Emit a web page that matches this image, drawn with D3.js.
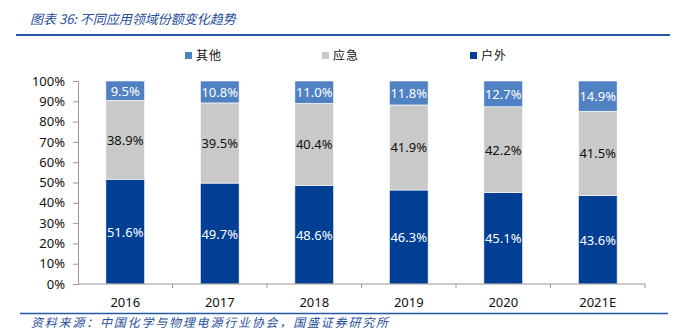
<!DOCTYPE html>
<html><head><meta charset="utf-8">
<script src="https://cdn.jsdelivr.net/npm/d3@7"></script>
<style>body{margin:0;background:#fff;}svg{display:block;}</style>
</head><body>
<svg id="c" width="682" height="331"></svg>
<script>
const categories = ["2016","2017","2018","2019","2020","2021E"];
const seriesNames = ["户外","应急","其他"];
const outdoor = [51.6,49.7,48.6,46.3,45.1,43.6];
const emergency = [38.9,39.5,40.4,41.9,42.2,41.5];
const other = [9.5,10.8,11.0,11.8,12.7,14.9];
const yTicks = [0,10,20,30,40,50,60,70,80,90,100];
const colors = {"户外":"#003F94","应急":"#C9C9C9","其他":"#4F81C3"};
const labelColors = {"户外":"#fff","应急":"#111","其他":"#fff"};

const svg = d3.select("#c");
const font = "'Noto Sans', sans-serif";
const cjk = "'Noto Sans CJK SC', sans-serif";
const blue = "#1F4E9A";

// title & rules
svg.append("text").attr("x",30).attr("y",24).attr("font-family",cjk).attr("font-style","italic")
  .attr("font-size",13).attr("fill",blue).text("图表 36:  不同应用领域份额变化趋势");
svg.append("line").attr("x1",16).attr("x2",670).attr("y1",35).attr("y2",35).attr("stroke","#2459A8").attr("stroke-width",2);
svg.append("line").attr("x1",20).attr("x2",668).attr("y1",313.5).attr("y2",313.5).attr("stroke","#2459A8").attr("stroke-width",1.5);
svg.append("text").attr("x",31).attr("y",327).attr("font-family",cjk).attr("font-style","italic")
  .attr("font-size",12).attr("letter-spacing",1.8).attr("fill",blue).text("资料来源：中国化学与物理电源行业协会，国盛证券研究所");

const x = d3.scaleBand().domain(categories).range([78,645]).paddingInner(0.59).paddingOuter(0.295);
const y = d3.scaleLinear().domain([0,100]).range([284,81]);

const rows = categories.map((c,i)=>({cat:c,"户外":outdoor[i],"应急":emergency[i],"其他":other[i]}));
const stack = d3.stack().keys(seriesNames)(rows);

stack.forEach(layer=>{
  const key = layer.key;
  const g = svg.append("g");
  g.selectAll("rect").data(layer).join("rect")
    .attr("x",d=>x(d.data.cat)).attr("width",x.bandwidth())
    .attr("y",d=>y(d[1])).attr("height",d=>y(d[0])-y(d[1]))
    .attr("fill",colors[key]).attr("stroke","#fff").attr("stroke-width",0.6);
  g.selectAll("text").data(layer).join("text")
    .attr("x",d=>x(d.data.cat)+x.bandwidth()/2).attr("y",d=>(y(d[0])+y(d[1]))/2+5)
    .attr("text-anchor","middle").attr("font-family",font).attr("font-size",13)
    .attr("fill",labelColors[key]).text(d=>d.data[key].toFixed(1)+"%");
});

// y axis
const ya = svg.append("g").attr("transform","translate(78,0)")
  .call(d3.axisLeft(y).tickValues(yTicks).tickFormat(d=>d+"%").tickSize(5).tickPadding(8));
ya.select(".domain").attr("stroke","#999");
ya.selectAll(".tick line").attr("stroke","#999");
ya.selectAll("text").attr("font-family",font).attr("font-size",13).attr("fill","#111");

// x axis
const xa = svg.append("g").attr("transform","translate(0,284)");
xa.append("line").attr("x1",78).attr("x2",645).attr("stroke","#999");
const step = x.step();
categories.forEach((c,i)=>{
  const left = x(c) - (step - x.bandwidth())/2;
  xa.append("line").attr("x1",left+step).attr("x2",left+step).attr("y1",0).attr("y2",4).attr("stroke","#999");
  xa.append("text").attr("x",x(c)+x.bandwidth()/2).attr("y",23).attr("text-anchor","middle")
    .attr("font-family",font).attr("font-size",13).attr("fill","#111").text(c);
});

// legend
const legend = [{k:"其他",x:185},{k:"应急",x:322},{k:"户外",x:470}];
legend.forEach(l=>{
  svg.append("rect").attr("x",l.x).attr("y",52).attr("width",7).attr("height",7).attr("fill",colors[l.k]);
  svg.append("text").attr("x",l.x+11).attr("y",60).attr("font-family",cjk).attr("font-size",12).attr("letter-spacing",1).attr("fill","#111").text(l.k);
});
</script>
</body></html>
